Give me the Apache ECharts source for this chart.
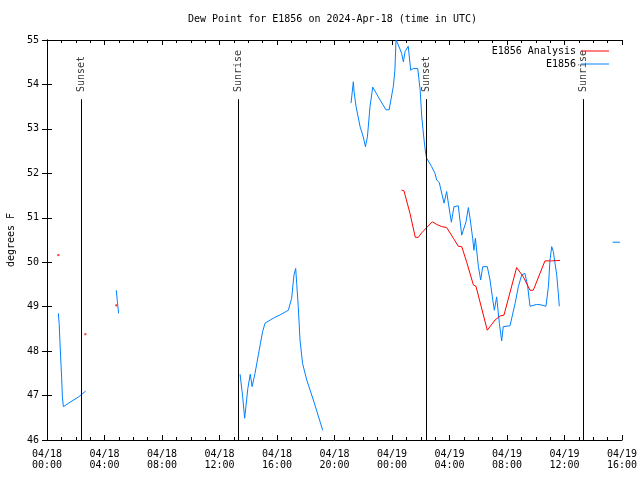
<!DOCTYPE html>
<html>
<head>
<meta charset="utf-8">
<script src="https://cdn.jsdelivr.net/npm/echarts@6/dist/echarts.min.js"></script>
<style>html,body{margin:0;padding:0;background:#fff;}#c{width:640px;height:480px;}</style>
</head>
<body>
<div id="c"></div>
<script>
// Hours since 2024-04-18 00:00 UTC; null value = gap in the record
const obsTimes = [0.79,0.85,0.90,0.96,1.02,1.07,1.14,1.6,2.2,2.69, 3.5,
  4.82,4.9,4.98, 9.0,
  13.43,13.6,13.75,13.85,13.97,14.14,14.27,14.47,14.7,14.85,15.0,15.17,15.74,16.3,16.79,17.02,17.18,17.3,17.37,17.48,17.6,17.78,18.07,18.53,19.18, 20.0,
  21.15,21.31,21.36,21.5,21.78,22.0,22.15,22.29,22.47,22.66,23.17,23.58,23.8,24.09,24.2,24.28,24.44,24.67,24.79,24.91,25.13,25.3,25.48,25.79,25.96,26.07,26.23,26.34,26.41,26.76,26.99,27.11,27.29,27.62,27.8,27.92,28.13,28.31,28.61,28.85,28.96,29.15,29.31,29.43,29.61,29.7,29.8,30.01,30.17,30.31,30.63,30.82,30.98,31.12,31.28,31.47,31.63,31.74,32.21,32.56,32.79,33.02,33.25,33.44,33.6,34.06,34.37,34.71,34.81,34.88,34.99,35.11,35.22,35.34,35.46,35.57,35.64, 37.0,
  39.35,39.86];
const obsValues = [48.85,48.6,48.2,47.8,47.39,46.97,46.75,46.85,46.97,47.1, null,
  49.37,49.1,48.85, null,
  47.48,47.01,46.49,46.79,47.16,47.48,47.2,47.5,47.91,48.18,48.44,48.63,48.74,48.83,48.92,49.19,49.71,49.86,49.52,49.0,48.25,47.72,47.35,46.9,46.22, null,
  53.58,54.06,53.84,53.5,53.05,52.82,52.6,52.82,53.5,53.94,53.65,53.43,53.43,53.95,54.32,55.0,54.89,54.7,54.51,54.74,54.86,54.32,54.36,54.36,53.87,53.27,52.75,52.45,52.34,52.15,52.0,51.85,51.79,51.33,51.59,51.33,50.9,51.25,51.27,50.61,50.72,50.91,51.23,50.99,50.54,50.27,50.54,49.9,49.6,49.9,49.9,49.6,49.22,48.92,49.22,48.62,48.23,48.55,48.57,49.07,49.45,49.71,49.75,49.45,49.01,49.05,49.04,49.01,49.01,49.45,50.05,50.35,50.24,49.98,49.71,49.3,49.01, null,
  50.45,50.45];

const anaTimes = [0.79, 1.7, 2.67, 3.7, 4.82, 14.0,
  24.67,24.83,25.25,25.62,25.83,26.06,26.41,26.81,27.11,27.46,27.8,28.27,28.61,28.85,29.19,29.66,29.84,30.63,31.17,31.51,31.79,32.67,32.79,33.14,33.6,33.83,34.64,35.11,35.69];
const anaValues = [50.16, null, 48.38, null, 49.03, null,
  51.62,51.61,51.1,50.56,50.56,50.66,50.78,50.91,50.85,50.8,50.78,50.54,50.36,50.35,50.01,49.49,49.46,48.47,48.7,48.79,48.81,49.88,49.88,49.67,49.37,49.37,50.03,50.03,50.04];

const sunTimes = [2.39, 13.31, 26.39, 37.31];
const sunNames = ['Sunset', 'Sunrise', 'Sunset', 'Sunrise'];
const sunLineTop = 53.67;

const FONT = 'DejaVu Sans Mono';
const pad = n => (n < 10 ? '0' : '') + n;
const fmtX = v => '04/' + (18 + Math.floor(v / 24)) + '\n' + pad(v % 24) + ':00';

const obsData = obsTimes.map((t, i) => [t, obsValues[i] === null ? NaN : obsValues[i]]);
const anaData = anaTimes.map((t, i) => [t, anaValues[i] === null ? NaN : anaValues[i]]);
// isolated analysis values (no neighbours) are drawn as single dots
const anaDots = anaTimes.map((t, i) => [t, anaValues[i]]).filter((p, i) =>
  p[1] !== null && (i === 0 || anaValues[i - 1] === null) && (i === anaValues.length - 1 || anaValues[i + 1] === null));

const chart = echarts.init(document.getElementById('c'), null, {renderer: 'canvas'});
const axisCommon = {
  axisLine: {show: true, lineStyle: {color: '#000', width: 1}},
  splitLine: {show: false}
};
const legendCommon = {orient: 'vertical', align: 'right', right: 31, padding: 0,
  icon: 'rect', itemWidth: 28, itemHeight: 1, selectedMode: false,
  textStyle: {fontFamily: FONT, fontSize: 10, color: '#000'}};
chart.setOption({
  animation: false,
  backgroundColor: '#fff',
  textStyle: {fontFamily: FONT},
  title: {
    text: 'Dew Point for E1856 on 2024-Apr-18 (time in UTC)',
    left: 188, top: 14, padding: 0,
    textStyle: {fontFamily: FONT, fontSize: 10, fontWeight: 'normal', color: '#000'}
  },
  legend: [
    Object.assign({data: ['E1856 Analysis'], top: 46}, legendCommon),
    Object.assign({data: ['E1856'], top: 59}, legendCommon)
  ],
  grid: {left: 47, right: 18, top: 40, bottom: 40, containLabel: false, outerBoundsMode: 'none'},
  xAxis: [
    Object.assign({type: 'value', min: 0, max: 40, interval: 4, position: 'bottom',
      axisTick: {show: true, inside: true, length: 5, lineStyle: {color: '#000'}},
      minorTick: {show: true, splitNumber: 4, length: 3, lineStyle: {color: '#000'}},
      minorSplitLine: {show: false},
      axisLabel: {formatter: fmtX, fontFamily: FONT, fontSize: 10, color: '#000', margin: 9, lineHeight: 11}
    }, axisCommon),
    Object.assign({type: 'value', min: 0, max: 40, interval: 4, position: 'top',
      axisTick: {show: true, inside: true, length: 5, lineStyle: {color: '#000'}},
      minorTick: {show: true, splitNumber: 4, length: 3, lineStyle: {color: '#000'}},
      axisLabel: {show: false}
    }, axisCommon)
  ],
  yAxis: [
    Object.assign({type: 'value', min: 46, max: 55, interval: 1, position: 'left',
      name: 'degrees F', nameLocation: 'middle', nameRotate: 90, nameGap: 31,
      nameTextStyle: {fontFamily: FONT, fontSize: 10, color: '#000'},
      axisTick: {show: true, inside: true, length: 5, lineStyle: {color: '#000'}},
      axisLabel: {fontFamily: FONT, fontSize: 10, color: '#000', margin: 8}
    }, axisCommon),
    Object.assign({type: 'value', min: 46, max: 55, interval: 1, position: 'right',
      axisTick: {show: true, inside: true, length: 5, lineStyle: {color: '#000'}},
      axisLabel: {show: false}
    }, axisCommon)
  ],
  series: [
    {
      name: 'sun', type: 'scatter', xAxisIndex: 0, yAxisIndex: 0,
      symbolSize: 0, itemStyle: {color: '#000'}, silent: true,
      data: sunTimes.map((t, i) => ({value: [t, sunLineTop], name: sunNames[i]})),
      label: {show: true, formatter: p => p.name, position: 'top', distance: 7, rotate: 90,
        align: 'left', verticalAlign: 'middle', fontFamily: FONT, fontSize: 10, color: '#000',
        textBorderWidth: 0},
      markLine: {
        silent: true, symbol: ['none', 'none'], animation: false,
        lineStyle: {color: '#000', width: 1, type: 'solid'},
        label: {show: false},
        data: sunTimes.map(t => [{coord: [t, sunLineTop]}, {coord: [t, 46]}])
      },
      z: 1
    },
    {
      name: 'E1856 Analysis', type: 'line', data: anaData, showSymbol: false, connectNulls: false,
      color: '#ff0000', lineStyle: {color: '#ff0000', width: 1}, z: 3
    },
    {
      name: 'E1856 Analysis', type: 'scatter', data: anaDots, symbol: 'rect', symbolSize: 2,
      itemStyle: {color: '#ff0000'}, z: 3
    },
    {
      name: 'E1856', type: 'line', data: obsData, showSymbol: false, connectNulls: false,
      color: '#0080ff', lineStyle: {color: '#0080ff', width: 1}, z: 2
    }
  ]
});
</script>
</body>
</html>
